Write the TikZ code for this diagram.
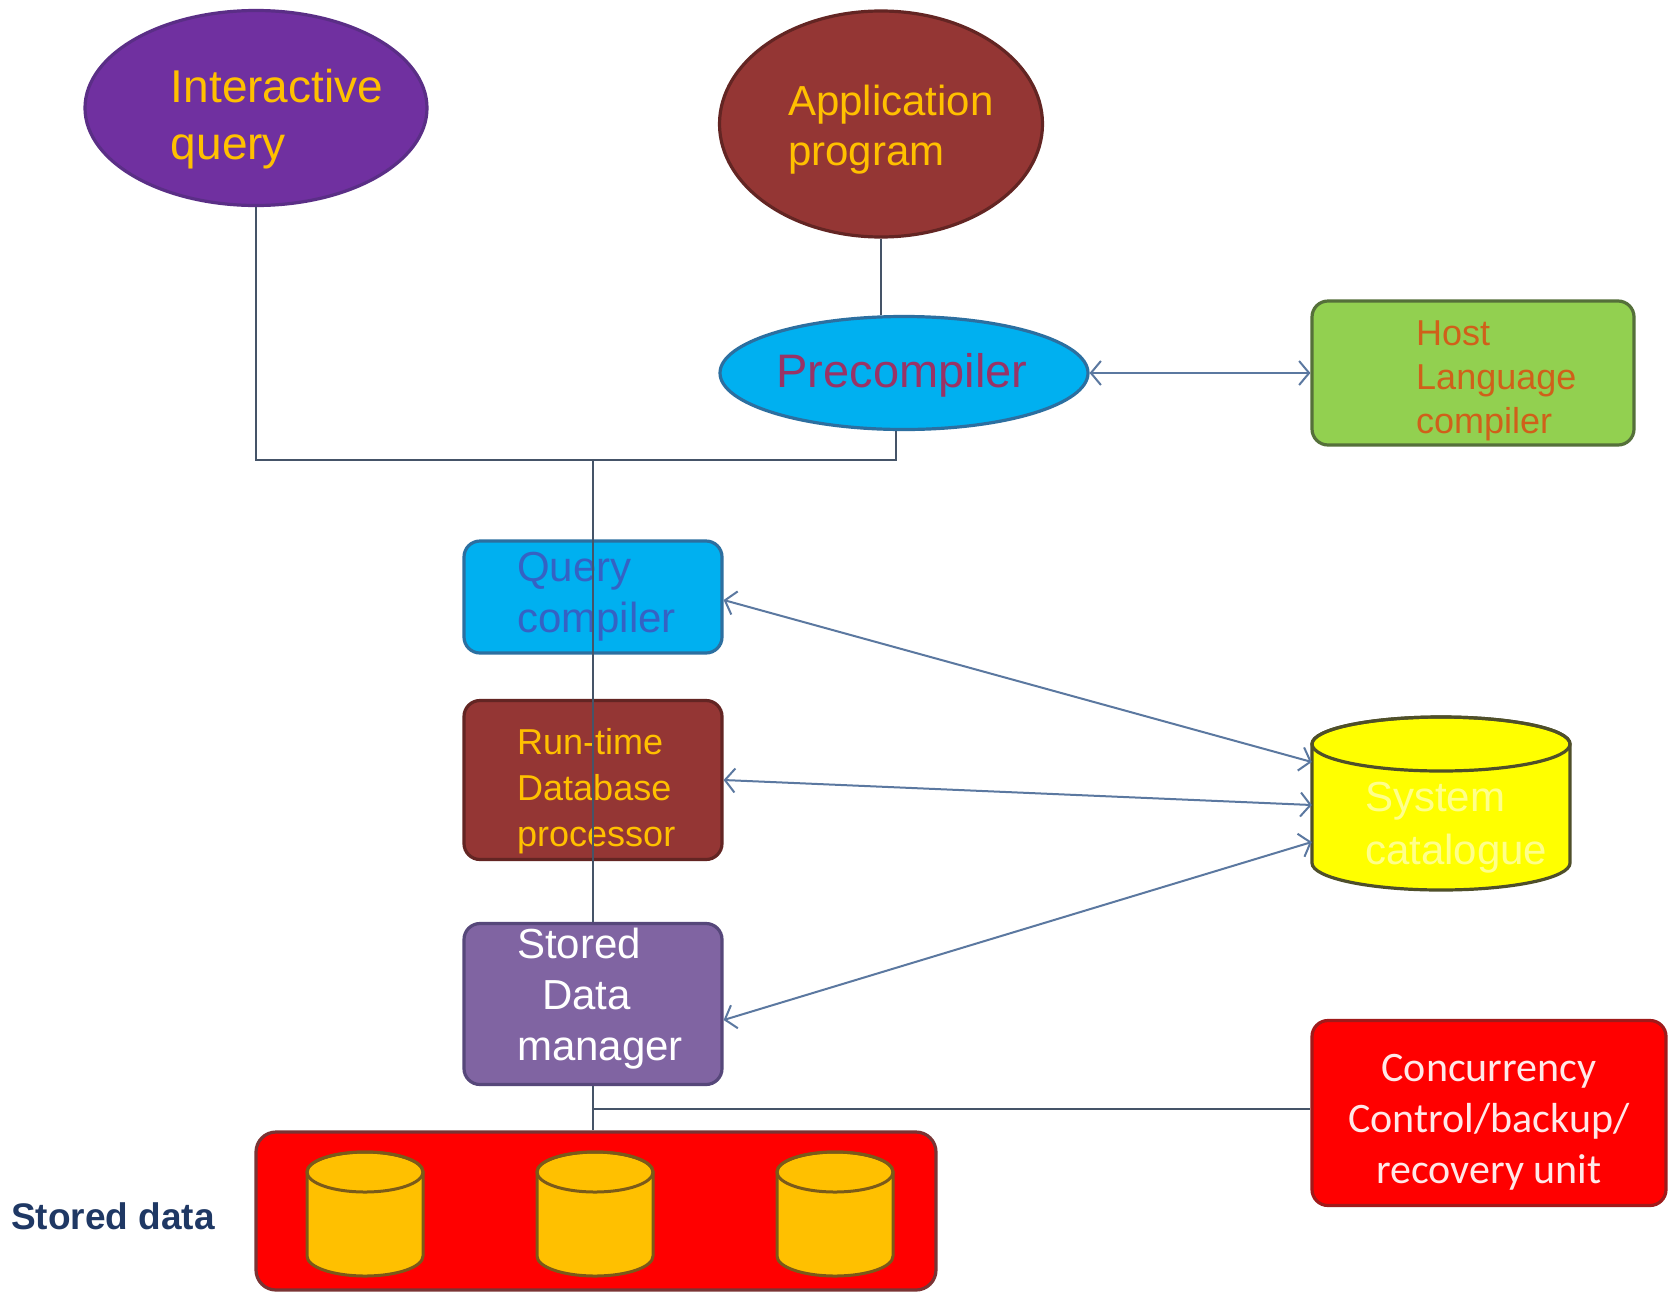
\documentclass[tikz,border=0pt]{standalone}
\usepackage{fontspec}
\setmainfont{Liberation Sans}
\newfontfamily\calib{Carlito}
\usetikzlibrary{shapes.geometric,arrows.meta,calc}

\definecolor{iqfill}{HTML}{7030A0}
\definecolor{iqedge}{HTML}{5A2E86}
\definecolor{brownfill}{HTML}{943634}
\definecolor{brownedge}{HTML}{632523}
\definecolor{cyanfill}{HTML}{00B0F0}
\definecolor{cyanedge}{HTML}{2C6FA0}
\definecolor{greenfill}{HTML}{92D050}
\definecolor{greenedge}{HTML}{55703A}
\definecolor{violetfill}{HTML}{8064A2}
\definecolor{violetedge}{HTML}{56477A}
\definecolor{catfill}{HTML}{FFFF00}
\definecolor{catedge}{HTML}{4F4F2A}
\definecolor{redfill}{HTML}{FF0000}
\definecolor{rededge}{HTML}{A01A1A}
\definecolor{boxedge}{HTML}{7A3434}
\definecolor{diskfill}{HTML}{FFC000}
\definecolor{diskedge}{HTML}{7A5A1A}
\definecolor{gold}{HTML}{FFC000}
\definecolor{plum}{HTML}{993366}
\definecolor{rust}{HTML}{D0601A}
\definecolor{qblue}{HTML}{3562C4}
\definecolor{paleyellow}{HTML}{FFFF8C}
\definecolor{palepink}{HTML}{FFE8E8}
\definecolor{navy}{HTML}{1F3864}
\definecolor{wirecol}{HTML}{455468}
\definecolor{linkcol}{HTML}{5B78A0}

\begin{document}
\begin{tikzpicture}[x=1pt,y=-1pt,
  oval/.style={ellipse, draw, line width=3.2pt, inner sep=0pt},
  box/.style={rectangle, rounded corners=16pt, draw, line width=3.2pt, inner sep=0pt},
  txt/.style={inner sep=0pt, align=left},
  wire/.style={draw=wirecol, line width=2pt},
  link/.style={draw=linkcol, line width=2pt,
    {Straight Barb[length=10pt,width=24pt]}-{Straight Barb[length=10pt,width=24pt]}},
  disk/.style={fill=diskfill, draw=diskedge, line width=3pt},
]
\useasboundingbox (0,0) rectangle (1672,1293);
\fill[white] (0,0) rectangle (1672,1293);

% ---- sources ----
\node[oval, fill=iqfill, draw=iqedge, minimum width=342pt, minimum height=195pt] (iq) at (256,108) {};
\node[txt, text=gold, font=\fontsize{46}{57}\selectfont] (iqtext) at (277,119) {Interactive\\query};

\node[oval, fill=brownfill, draw=brownedge, minimum width=323pt, minimum height=226pt] (ap) at (881,124) {};
\node[txt, text=gold, font=\fontsize{42}{50}\selectfont] (aptext) at (891,130) {Application\\program};

\node[oval, fill=cyanfill, draw=cyanedge, minimum width=368pt, minimum height=113pt] (pre) at (904,373) {};
\node[txt, text=plum, font=\fontsize{47}{56}\selectfont] (pretext) at (902,375) {Precompiler};

\node[box, fill=greenfill, draw=greenedge, minimum width=322pt, minimum height=144pt] (host) at (1473,373) {};
\node[txt, text=rust, anchor=west, font=\fontsize{36}{44}\selectfont] (hosttext) at (1416,381) {Host\\Language\\compiler};

% ---- processing chain ----
\node[box, fill=cyanfill, draw=cyanedge, minimum width=258pt, minimum height=112pt] (qc) at (593,597) {};
\node[txt, text=qblue, anchor=west, font=\fontsize{42}{51}\selectfont] (qctext) at (517,597) {Query\\compiler};

\node[box, fill=brownfill, draw=brownedge, minimum width=258pt, minimum height=159pt] (rt) at (593,780) {};
\node[txt, text=gold, anchor=west, font=\fontsize{36}{46}\selectfont] (rttext) at (517,791) {Run-time\\Database\\processor};

\node[box, fill=violetfill, draw=violetedge, minimum width=258pt, minimum height=161pt] (sdm) at (593,1004) {};
\node[txt, text=white, anchor=west, font=\fontsize{42}{51}\selectfont] (sdmtext) at (517,999) {Stored\\\hspace*{25pt}Data\\manager};

% ---- system catalogue ----
\node[minimum width=258pt, minimum height=173pt, inner sep=0pt] (cat) at (1441,803) {};
\path[fill=catfill, draw=catedge, line width=3.2pt]
  (1312,744) -- (1312,863)
  arc[start angle=180, end angle=360, x radius=129pt, y radius=27pt]
  -- (1570,744)
  arc[start angle=0, end angle=180, x radius=129pt, y radius=27pt] -- cycle;
\draw[catedge, line width=3.2pt] (1441,744) ellipse [x radius=129pt, y radius=27pt];
\node[txt, text=paleyellow, anchor=west, font=\fontsize{42}{53}\selectfont] (cattext) at (1365,828) {System\\catalogue};

% ---- concurrency unit ----
\node[box, fill=redfill, draw=rededge, minimum width=354pt, minimum height=185pt] (conc) at (1489,1113) {};
\node[txt, align=center, text=palepink, font=\calib\fontsize{42}{51}\selectfont] (conctext) at (1489,1122) {Concurrency\\Control/backup/\\recovery unit};

% ---- stored data ----
\node[box, rounded corners=20pt, fill=redfill, draw=boxedge, minimum width=680pt, minimum height=158pt] (sd) at (596,1211) {};
\foreach \cx in {365,595,835} {
  \path[disk]
    ({\cx-58},1172) -- ({\cx-58},1256)
    arc[start angle=180, end angle=360, x radius=58pt, y radius=20pt]
    -- ({\cx+58},1172)
    arc[start angle=0, end angle=180, x radius=58pt, y radius=20pt] -- cycle;
  \draw[diskedge, line width=3pt] (\cx,1172) ellipse [x radius=58pt, y radius=20pt];
}
\node[txt, anchor=west, text=navy, font=\bfseries\fontsize{37}{44}\selectfont] (sdlabel) at (11,1216) {Stored data};

% ---- connectors ----
\path (qc.north) ++(0,-79) coordinate (j1);
\path (pre.south) ++(-8,0) coordinate (pin);
\draw[wire] (iq.south) |- (pin |- j1) -- (pin);
\draw[wire] (ap.south) -- (ap.south |- pre.north);
\draw[wire] (j1) -- (rt.south);
\draw[wire] (rt.south) -- (sdm.north);
\draw[wire] (sdm.south) -- (sdm.south |- sd.north);
\draw[wire] (sdm.south |- 0,1109) -- (conc.west |- 0,1109);

\draw[link] (pre.east) -- (host.west);
\draw[link] ($(qc.east)+(0,3)$) -- ($(cat.west)+(0,-41)$);
\draw[link] (rt.east) -- ($(cat.west)+(0,2)$);
\draw[link] ($(sdm.east)+(0,16)$) -- ($(cat.west)+(0,39)$);
\end{tikzpicture}
\end{document}
